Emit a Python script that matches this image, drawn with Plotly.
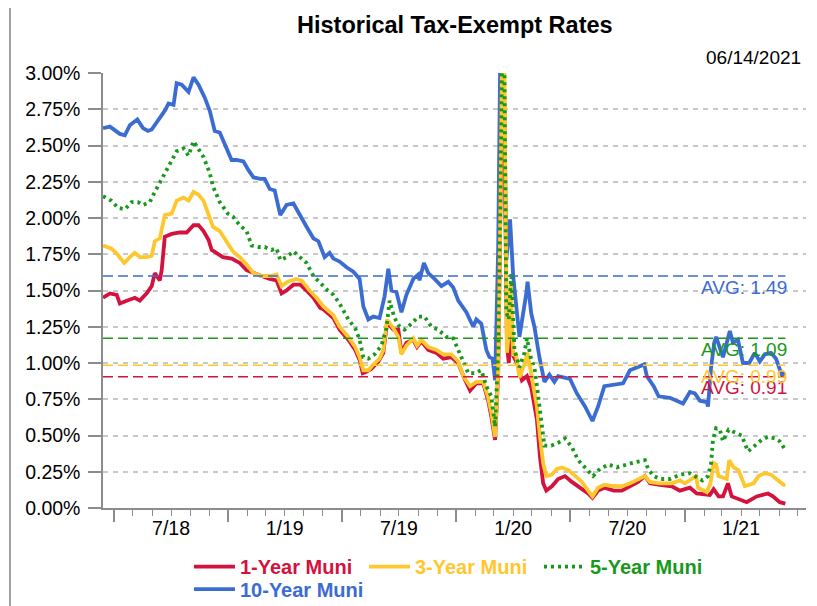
import plotly.graph_objects as go
import pandas as pd

FONT = "Liberation Sans, Arial, sans-serif"

# ---------------- data ----------------
dates_10y = ["2018-06-14","2018-06-25","2018-07-11","2018-07-19","2018-07-27","2018-08-08","2018-08-17","2018-08-25","2018-08-31","2018-09-11",
             "2018-09-21","2018-09-27","2018-10-05","2018-10-10","2018-10-18","2018-10-29","2018-11-06","2018-11-14","2018-11-24","2018-12-02",
             "2018-12-10","2018-12-18","2018-12-29","2019-01-06","2019-01-14","2019-01-25","2019-02-02","2019-02-10","2019-02-21","2019-02-28",
             "2019-03-08","2019-03-16","2019-03-25","2019-04-04","2019-04-15","2019-04-26","2019-05-06","2019-05-17","2019-05-25","2019-06-04",
             "2019-06-12","2019-06-18","2019-06-28","2019-07-09","2019-07-20","2019-07-30","2019-08-05","2019-08-13","2019-08-21","2019-08-31",
             "2019-09-08","2019-09-14","2019-09-19","2019-09-27","2019-10-05","2019-10-13","2019-10-24","2019-11-01","2019-11-03","2019-11-10",
             "2019-11-17","2019-11-27","2019-12-08","2019-12-19","2019-12-27","2020-01-04","2020-01-17","2020-01-28","2020-02-02","2020-02-10",
             "2020-02-18","2020-02-23","2020-02-28","2020-03-03","2020-03-08","2020-03-11","2020-03-17","2020-03-21","2020-03-27","2020-04-01",
             "2020-04-11","2020-04-22","2020-04-24","2020-04-30","2020-05-05","2020-05-13","2020-05-21","2020-05-29","2020-06-06","2020-06-12",
             "2020-07-01","2020-07-12","2020-07-25","2020-08-06","2020-08-15","2020-08-25","2020-09-11","2020-09-24","2020-10-05","2020-10-15",
             "2020-10-28","2020-11-01","2020-11-12","2020-11-20","2020-12-08","2020-12-29","2021-01-09","2021-01-17","2021-01-25","2021-02-05",
             "2021-02-07","2021-02-12","2021-02-17","2021-02-20","2021-02-26","2021-03-03","2021-03-14","2021-03-19","2021-03-27","2021-04-04",
             "2021-04-14","2021-04-23","2021-05-01","2021-05-09","2021-05-19","2021-05-27","2021-06-05","2021-06-11"]
rate_10y = [2.62,2.63,2.58,2.57,2.64,2.68,2.62,2.60,2.61,2.68,
            2.74,2.79,2.78,2.93,2.92,2.87,2.97,2.92,2.83,2.74,
            2.60,2.59,2.47,2.40,2.40,2.39,2.33,2.28,2.27,2.27,
            2.20,2.19,2.02,2.09,2.10,2.01,1.94,1.86,1.84,1.73,
            1.76,1.72,1.70,1.66,1.63,1.58,1.39,1.30,1.32,1.31,
            1.46,1.65,1.50,1.49,1.35,1.47,1.58,1.61,1.57,1.69,
            1.62,1.58,1.53,1.56,1.52,1.43,1.35,1.25,1.30,1.27,
            1.09,1.04,1.03,0.88,1.80,3.02,3.02,1.71,1.99,1.60,
            1.18,1.48,1.56,1.34,1.25,1.04,0.87,0.92,0.87,0.91,
            0.89,0.79,0.70,0.60,0.70,0.84,0.85,0.86,0.95,0.97,
            0.99,0.91,0.84,0.77,0.76,0.72,0.80,0.79,0.74,0.73,
            0.70,0.97,1.14,1.18,1.11,1.04,1.22,1.14,1.16,1.00,
            1.00,1.07,1.01,1.06,1.07,1.03,0.92,0.93]

dates_1y = ["2018-06-14","2018-06-25","2018-07-06","2018-07-11","2018-07-22","2018-08-04","2018-08-12","2018-08-23","2018-08-31","2018-09-05",
            "2018-09-13","2018-09-16","2018-09-21","2018-10-02","2018-10-15","2018-10-26","2018-11-06","2018-11-14","2018-11-22","2018-11-30",
            "2018-12-05","2018-12-13","2018-12-23","2019-01-06","2019-01-19","2019-01-30","2019-02-10","2019-02-23","2019-03-08","2019-03-19",
            "2019-03-27","2019-04-04","2019-04-15","2019-04-26","2019-05-06","2019-05-17","2019-05-28","2019-06-02","2019-06-18","2019-06-28",
            "2019-07-12","2019-07-23","2019-07-30","2019-08-04","2019-08-10","2019-08-18","2019-08-29","2019-09-06","2019-09-12","2019-09-22",
            "2019-09-30","2019-10-05","2019-10-13","2019-10-24","2019-10-30","2019-11-06","2019-11-17","2019-11-30","2019-12-11","2019-12-24",
            "2020-01-04","2020-01-12","2020-01-23","2020-02-02","2020-02-13","2020-02-21","2020-02-26","2020-03-03","2020-03-08","2020-03-11",
            "2020-03-14","2020-03-18","2020-03-22","2020-03-25","2020-03-28","2020-04-01","2020-04-07","2020-04-15","2020-04-23","2020-04-30",
            "2020-05-09","2020-05-14","2020-05-19","2020-05-24","2020-06-02","2020-06-12","2020-06-23","2020-07-04","2020-07-17","2020-07-30",
            "2020-08-06","2020-08-15","2020-08-25","2020-09-09","2020-09-22","2020-10-05","2020-10-18","2020-10-29","2020-11-06","2020-11-22",
            "2020-12-11","2020-12-24","2021-01-09","2021-01-20","2021-02-05","2021-02-10","2021-02-16","2021-02-24","2021-03-03","2021-03-11",
            "2021-03-17","2021-03-30","2021-04-10","2021-04-26","2021-05-14","2021-05-22","2021-06-02","2021-06-11"]
rate_1y = [1.45,1.48,1.47,1.41,1.43,1.45,1.43,1.48,1.53,1.62,
           1.57,1.64,1.87,1.89,1.90,1.90,1.95,1.95,1.91,1.85,
           1.78,1.76,1.73,1.72,1.69,1.64,1.62,1.60,1.58,1.57,
           1.48,1.50,1.54,1.54,1.50,1.45,1.38,1.37,1.31,1.23,
           1.16,1.09,1.02,0.93,0.94,0.96,1.01,1.07,1.28,1.23,
           1.23,1.07,1.14,1.16,1.11,1.15,1.09,1.07,1.03,1.04,
           1.00,0.91,0.81,0.86,0.86,0.74,0.63,0.47,0.93,1.80,
           2.85,2.60,1.12,1.00,1.25,1.05,1.00,0.88,0.91,0.83,
           0.61,0.35,0.17,0.12,0.15,0.20,0.22,0.18,0.14,0.10,
           0.07,0.12,0.14,0.12,0.12,0.15,0.18,0.22,0.17,0.16,
           0.15,0.12,0.14,0.10,0.09,0.09,0.13,0.08,0.08,0.17,
           0.08,0.06,0.04,0.08,0.10,0.08,0.04,0.03]

dates_3y = ["2018-06-14","2018-06-27","2018-07-05","2018-07-13","2018-07-18","2018-07-27","2018-08-04","2018-08-12","2018-08-23","2018-08-31",
            "2018-09-05","2018-09-13","2018-09-21","2018-10-02","2018-10-10","2018-10-21","2018-10-29","2018-11-06","2018-11-14","2018-11-22",
            "2018-11-30","2018-12-07","2018-12-18","2018-12-29","2019-01-08","2019-01-19","2019-01-30","2019-02-10","2019-02-23","2019-03-08",
            "2019-03-19","2019-03-27","2019-04-06","2019-04-19","2019-04-28","2019-05-11","2019-05-22","2019-06-02","2019-06-18","2019-06-28",
            "2019-07-12","2019-07-23","2019-07-30","2019-08-05","2019-08-13","2019-08-21","2019-08-31","2019-09-06","2019-09-12","2019-09-22",
            "2019-09-30","2019-10-05","2019-10-13","2019-10-24","2019-10-30","2019-11-06","2019-11-17","2019-11-30","2019-12-11","2019-12-24",
            "2020-01-04","2020-01-12","2020-01-23","2020-02-02","2020-02-13","2020-02-21","2020-02-26","2020-03-03","2020-03-08","2020-03-11",
            "2020-03-14","2020-03-18","2020-03-22","2020-03-25","2020-03-28","2020-04-01","2020-04-05","2020-04-11","2020-04-19","2020-04-24",
            "2020-04-30","2020-05-09","2020-05-14","2020-05-19","2020-05-24","2020-06-02","2020-06-10","2020-06-18","2020-06-29","2020-07-09",
            "2020-07-20","2020-07-30","2020-08-06","2020-08-15","2020-08-25","2020-09-09","2020-09-22","2020-10-05","2020-10-18","2020-10-29",
            "2020-11-06","2020-11-22","2020-12-11","2020-12-24","2021-01-01","2021-01-09","2021-01-19","2021-01-22","2021-02-05","2021-02-11",
            "2021-02-16","2021-02-20","2021-02-24","2021-03-09","2021-03-13","2021-03-20","2021-03-28","2021-04-07","2021-04-21","2021-04-29",
            "2021-05-09","2021-05-19","2021-05-30","2021-06-08","2021-06-11"]
rate_3y = [1.81,1.79,1.76,1.71,1.69,1.73,1.76,1.73,1.73,1.74,
           1.84,1.86,2.02,2.03,2.12,2.14,2.12,2.18,2.16,2.12,
           2.03,1.94,1.91,1.84,1.77,1.73,1.68,1.62,1.60,1.60,
           1.61,1.53,1.56,1.58,1.57,1.50,1.45,1.39,1.33,1.25,
           1.18,1.11,1.04,0.95,0.95,0.99,1.03,1.09,1.30,1.24,
           1.18,1.06,1.12,1.17,1.12,1.16,1.11,1.09,1.06,1.06,
           1.01,0.91,0.84,0.87,0.87,0.76,0.66,0.49,0.95,1.90,
           3.02,3.02,1.07,1.20,1.55,1.05,1.07,0.90,0.99,1.07,
           0.91,0.70,0.49,0.31,0.22,0.23,0.27,0.28,0.26,0.22,
           0.18,0.12,0.08,0.14,0.16,0.15,0.15,0.17,0.20,0.22,
           0.18,0.17,0.17,0.19,0.17,0.19,0.22,0.14,0.11,0.17,
           0.31,0.30,0.22,0.20,0.33,0.28,0.26,0.15,0.17,0.22,
           0.24,0.23,0.19,0.16,0.16]

dates_5y = ["2018-06-14","2018-06-27","2018-07-08","2018-07-19","2018-07-30","2018-08-09","2018-08-17","2018-08-28","2018-09-05","2018-09-15",
            "2018-09-26","2018-10-10","2018-10-21","2018-10-29","2018-11-06","2018-11-14","2018-11-22","2018-12-02","2018-12-07","2018-12-18",
            "2018-12-31","2019-01-08","2019-01-19","2019-01-30","2019-02-07","2019-02-18","2019-02-28","2019-03-11","2019-03-19","2019-03-25",
            "2019-04-04","2019-04-15","2019-04-26","2019-05-06","2019-05-17","2019-05-28","2019-06-09","2019-06-18","2019-06-28","2019-07-12",
            "2019-07-23","2019-07-30","2019-08-05","2019-08-13","2019-08-23","2019-09-03","2019-09-11","2019-09-16","2019-09-24","2019-10-02",
            "2019-10-10","2019-10-21","2019-11-01","2019-11-11","2019-11-22","2019-12-03","2019-12-16","2019-12-27","2020-01-04","2020-01-12",
            "2020-01-20","2020-01-31","2020-02-10","2020-02-18","2020-02-26","2020-03-03","2020-03-08","2020-03-11","2020-03-14","2020-03-18",
            "2020-03-21","2020-03-25","2020-03-29","2020-04-03","2020-04-11","2020-04-19","2020-04-23","2020-04-30","2020-05-05","2020-05-10",
            "2020-05-16","2020-05-21","2020-06-01","2020-06-12","2020-06-23","2020-07-04","2020-07-14","2020-07-28","2020-08-07","2020-08-18",
            "2020-09-01","2020-09-14","2020-09-28","2020-10-08","2020-10-18","2020-10-29","2020-11-03","2020-11-12","2020-11-22","2020-12-08",
            "2020-12-24","2021-01-09","2021-01-17","2021-01-29","2021-02-07","2021-02-12","2021-02-15","2021-02-20","2021-02-26","2021-03-03",
            "2021-03-12","2021-03-23","2021-04-02","2021-04-12","2021-04-23","2021-05-04","2021-05-14","2021-05-25","2021-06-02","2021-06-11"]
rate_5y = [2.15,2.12,2.07,2.06,2.11,2.11,2.09,2.11,2.18,2.26,
           2.35,2.46,2.48,2.43,2.53,2.47,2.42,2.31,2.22,2.11,
           2.03,2.01,1.95,1.91,1.81,1.80,1.80,1.78,1.79,1.71,
           1.73,1.77,1.73,1.69,1.60,1.55,1.50,1.47,1.41,1.30,
           1.24,1.16,1.04,1.03,1.06,1.12,1.24,1.43,1.31,1.25,
           1.23,1.27,1.32,1.32,1.25,1.23,1.18,1.17,1.09,1.02,
           0.93,0.93,0.95,0.84,0.77,0.56,1.09,2.00,3.02,3.02,
           1.35,1.30,1.62,1.09,0.97,1.07,1.17,1.02,0.97,0.81,
           0.59,0.43,0.43,0.45,0.48,0.42,0.33,0.26,0.22,0.27,
           0.30,0.28,0.30,0.31,0.32,0.33,0.27,0.22,0.20,0.20,
           0.23,0.24,0.22,0.19,0.22,0.31,0.47,0.55,0.54,0.46,
           0.54,0.52,0.50,0.39,0.43,0.47,0.49,0.48,0.46,0.40]

series_names = ["1-Year Muni", "3-Year Muni", "5-Year Muni", "10-Year Muni"]
series_colors = ["#D3123D", "#FFC72E", "#18991C", "#3A6CD2"]

avg_line_levels = [0.905, 0.985, 1.17, 1.60]
avg_labels = ["AVG: 0.91", "AVG: 0.99", "AVG: 1.09", "AVG: 1.49"]
avg_start, avg_end = "2018-06-14", "2021-06-11"

y_ticks = [0, 0.25, 0.5, 0.75, 1.0, 1.25, 1.5, 1.75, 2.0, 2.25, 2.5, 2.75, 3.0]
y_tick_text = ["0.00%", "0.25%", "0.50%", "0.75%", "1.00%", "1.25%", "1.50%", "1.75%", "2.00%", "2.25%", "2.50%", "2.75%", "3.00%"]
x_label_dates = ["2018-10-01", "2019-04-01", "2019-10-01", "2020-04-01", "2020-10-01", "2021-04-01"]
x_label_text = ["7/18", "1/19", "7/19", "1/20", "7/20", "1/21"]
x_major_ticks = ["2018-07-01", "2019-01-01", "2019-07-01", "2020-01-01", "2020-07-01", "2021-01-01"]
x_range = ["2018-06-14", "2021-07-14"]

title_text = "Historical Tax-Exempt Rates"
date_text = "06/14/2021"

# ---------------- figure ----------------
fig = go.Figure()

# average lines (drawn underneath)
for lvl, col in zip(avg_line_levels, series_colors):
    fig.add_trace(go.Scatter(x=[avg_start, avg_end], y=[lvl, lvl], mode="lines",
                             line=dict(color=col, width=1.5, dash="10px,5px"),
                             showlegend=False, hoverinfo="skip", xaxis="x2"))

def leg_name(name, col):
    return f"<b><span style='color:{col}'>{name}</span></b>"

LW = 3.8
fig.add_trace(go.Scatter(x=dates_10y, y=rate_10y, mode="lines", name=leg_name(series_names[3], series_colors[3]),
                         line=dict(color=series_colors[3], width=LW), legend="legend2"))
fig.add_trace(go.Scatter(x=dates_1y, y=rate_1y, mode="lines", name=leg_name(series_names[0], series_colors[0]),
                         line=dict(color=series_colors[0], width=LW), legend="legend"))
fig.add_trace(go.Scatter(x=dates_3y, y=rate_3y, mode="lines", name=leg_name(series_names[1], series_colors[1]),
                         line=dict(color=series_colors[1], width=LW), legend="legend"))
fig.add_trace(go.Scatter(x=dates_5y, y=rate_5y, mode="lines", name=leg_name(series_names[2], series_colors[2]),
                         line=dict(color=series_colors[2], width=LW, dash="3px,4px"), legend="legend"))

annotations = []
for lvl, txt, col in zip(avg_line_levels, avg_labels, series_colors):
    annotations.append(dict(x=avg_end, y=lvl, xref="x", yref="y", text=txt, showarrow=False,
                            xanchor="right", yanchor="middle", xshift=4, yshift=-11,
                            font=dict(family=FONT, size=19, color=col)))
annotations.append(dict(x=0.5, y=1, xref="paper", yref="paper", text=f"<b>{title_text}</b>", showarrow=False,
                        xanchor="center", yanchor="middle", yshift=48,
                        font=dict(family=FONT, size=23.5, color="#000000")))
annotations.append(dict(x=1, y=1, xref="paper", yref="paper", text=date_text, showarrow=False,
                        xanchor="right", yanchor="middle", yshift=16, xshift=-3,
                        font=dict(family=FONT, size=19, color="#000000")))

legend_common = dict(orientation="h", xanchor="left", yanchor="top", bgcolor="rgba(0,0,0,0)",
                     font=dict(family=FONT, size=20), entrywidthmode="pixels", entrywidth=119,
                     itemwidth=41)

fig.update_layout(
    width=809, height=598,
    margin=dict(l=95, r=11, t=65, b=98, autoexpand=False),
    paper_bgcolor="white", plot_bgcolor="white",
    showlegend=True,
    legend=dict(x=0.1223, y=-0.090, **legend_common),
    legend2=dict(x=0.1223, y=-0.1416, **legend_common),
    annotations=annotations,
    shapes=[dict(type="rect", xref="paper", yref="paper", x0=-0.1323, x1=1.3, y0=-0.5, y1=1.1563,
                 line=dict(color="#444444", width=1), fillcolor="rgba(0,0,0,0)", layer="below")],
    xaxis=dict(type="date", range=x_range, showline=True, linecolor="#8c8c8c", linewidth=1.5,
               showgrid=False, zeroline=False, ticks="outside", tickmode="array", tickvals=x_major_ticks,
               ticklen=12, tickwidth=1.5, tickcolor="#8c8c8c", showticklabels=False,
               minor=dict(tickmode="array", tickvals=list(pd.date_range("2018-07-01", "2021-07-01", freq="MS").strftime("%Y-%m-%d")),
                          ticks="outside", ticklen=6, tickwidth=1.2, tickcolor="#8c8c8c", showgrid=False)),
    xaxis2=dict(type="date", range=x_range, overlaying="x", anchor="y", side="bottom", showline=False,
                showgrid=False, zeroline=False, ticks="", tickmode="array", tickvals=x_label_dates,
                ticktext=x_label_text, tickfont=dict(family=FONT, size=19.5, color="#000000"),
                ticklabelstandoff=6),
    yaxis=dict(range=[0, 3], tickmode="array", tickvals=y_ticks, ticktext=[t + "\u2009" for t in y_tick_text],
               showline=True, linecolor="#8c8c8c", linewidth=1.5, ticks="outside", ticklen=13,
               tickwidth=1.5, tickcolor="#8c8c8c", tickfont=dict(family=FONT, size=19.5, color="#000000"),
               showgrid=True, gridcolor="#c8c8c8", gridwidth=1.5, griddash="5px,5px", zeroline=False),
)

fig.write_html("out.html")
